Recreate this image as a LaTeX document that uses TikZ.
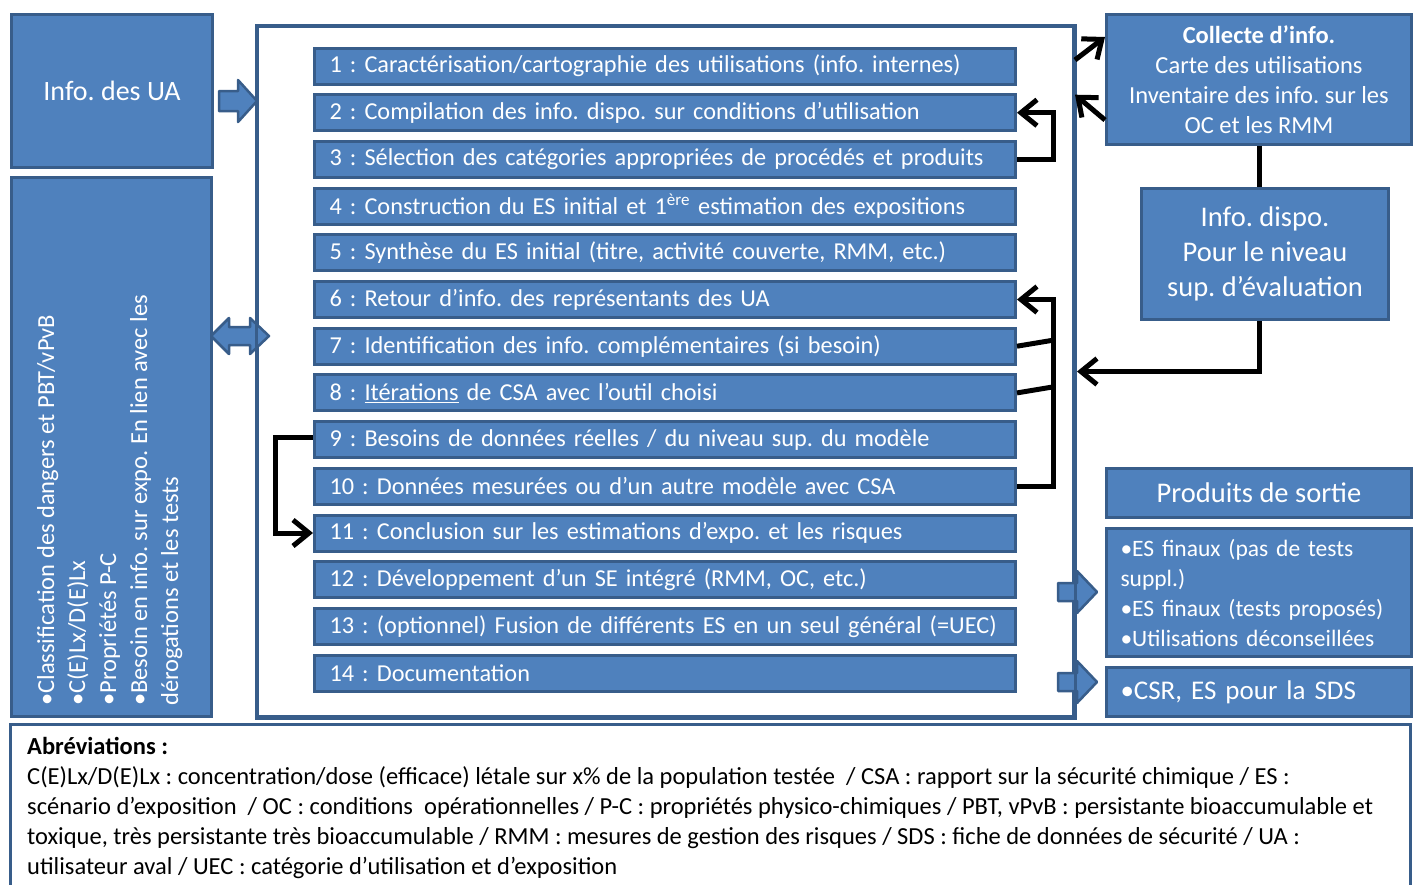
\documentclass[tikz,border=0pt]{standalone}
\usepackage{fontspec}
\setmainfont{Carlito}
\usetikzlibrary{arrows.meta}
\definecolor{boxblue}{HTML}{4F81BD}
\definecolor{boxline}{HTML}{385D8A}
\frenchspacing

\begin{document}
\begin{tikzpicture}[x=1pt, y=-1pt,
	bluebox/.style={draw=boxline, fill=boxblue, line width=3pt, text=white, inner sep=0pt, align=center, anchor=north west},
	stepbox/.style={bluebox, anchor=west, minimum height=36pt, text width=671pt, inner xsep=15pt, align=left, font=\fontsize{24.3}{28}\selectfont},
	flow/.style={line width=5pt, -{Straight Barb[length=16pt, width=26pt]}},
	link/.style={line width=5pt},
	blockarrow/.style={draw=boxline, fill=boxblue, line width=2.5pt, line join=round}]
	\useasboundingbox (0,0) rectangle (1415,884);
	\clip (0,0) rectangle (1415,884);
	\fill[white] (0,0) rectangle (1415,884);

	\node[bluebox, minimum width=201pt, minimum height=153pt, font=\fontsize{28}{32}\selectfont] (ua) at (10,13) {Info. des UA};
	\node[bluebox, minimum width=200pt, minimum height=539pt] (danger) at (10,176) {};
	\node[rotate=90, anchor=north west, text=white, inner sep=0pt, align=left, font=\fontsize{24.5}{31}\selectfont] (dangertxt) at (37,706)
		{•Classification des dangers et PBT/vPvB\\•C(E)Lx/D(E)Lx\\•Propriétés P-C\\•Besoin en info. sur expo. En lien avec les\\dérogations et les tests};

	\node[draw=boxline, fill=white, line width=3pt, anchor=north west, minimum width=816pt, minimum height=690pt] (main) at (256,25) {};

	\foreach \i/\t in {
		1/{1 : Caractérisation/cartographie des utilisations (info. internes)},
		2/{2 : Compilation des info. dispo.\ sur conditions d’utilisation},
		3/{3 : Sélection des catégories appropriées de procédés et produits},
		4/{4 : Construction du ES initial et 1\textsuperscript{ère} estimation des expositions},
		5/{5 : Synthèse du ES initial (titre, activité couverte, RMM, etc.)},
		6/{6 : Retour d’info. des représentants des UA},
		7/{7 : Identification des info. complémentaires (si besoin)},
		8/{8 : \underline{Itérations} de CSA avec l’outil choisi},
		9/{9 : Besoins de données réelles / du niveau sup.\ du modèle},
		10/{10 : Données mesurées ou d’un autre modèle avec CSA},
		11/{11 : Conclusion sur les estimations d’expo. et les risques},
		12/{12 : Développement d’un SE intégré (RMM, OC, etc.)},
		13/{13 : (optionnel) Fusion de différents ES en un seul général (=UEC)},
		14/{14 : Documentation}}
		\node[stepbox] (s\i) at (313,{66+(\i-1)*46.7}) {\t};

	\node[bluebox, minimum width=305pt, minimum height=130pt, font=\fontsize{24.5}{30}\selectfont] (collecte) at (1105,13)
		{\textbf{Collecte d’info.}\\Carte des utilisations\\Inventaire des info. sur les\\OC et les RMM};
	\node[bluebox, minimum width=247pt, minimum height=131pt, font=\fontsize{28.5}{35}\selectfont] (dispo) at (1140,187)
		{Info. dispo.\\Pour le niveau\\sup. d’évaluation};
	\node[bluebox, minimum width=305pt, minimum height=49pt, font=\fontsize{28.5}{32}\selectfont] (produits) at (1105,467) {Produits de sortie};
	\node[bluebox, minimum width=305pt, minimum height=128pt, text width=277pt, inner xsep=14pt, align=left, font=\fontsize{23.5}{30}\selectfont] (sortie) at (1105,527)
		{•ES finaux (pas de tests\\suppl.)\\•ES finaux (tests proposés)\\•Utilisations déconseillées};
	\node[bluebox, minimum width=305pt, minimum height=49pt, text width=277pt, inner xsep=14pt, align=left, font=\fontsize{27}{30}\selectfont] (csr) at (1105,666) {•CSR, ES pour la SDS};

	\draw[blockarrow] (219,91) -- (238,91) -- (238,80) -- (257,101) -- (238,122) -- (238,111) -- (219,111) -- cycle;
	\draw[blockarrow] (211,336) -- (229,318) -- (229,327) -- (250,327) -- (250,318) -- (269,336) -- (250,354) -- (250,345) -- (229,345) -- (229,354) -- cycle;
	\draw[blockarrow] (1058,583) -- (1077,583) -- (1077,571) -- (1097,592) -- (1077,613) -- (1077,601) -- (1058,601) -- cycle;
	\draw[blockarrow] (1058,673) -- (1077,673) -- (1077,661) -- (1097,682) -- (1077,703) -- (1077,691) -- (1058,691) -- cycle;
	\draw[boxline, line width=3pt] (main.north west) rectangle (main.south east);

	\draw[flow] (s3.east) -- ++(36,0) |- (s2.east);
	\draw[flow] (s10.east) -- ++(36,0) |- (s6.east);
	\draw[link] (s7.east) -- ++(36,-6);
	\draw[link] (s8.east) -- ++(36,-6);
	\draw[flow] ([yshift=2pt]s9.west) -- ++(-38,0) |- (s11.west);
	\draw[flow] ([yshift=6pt]main.east |- s1.east) -- ([yshift=-24pt]collecte.north west);
	\draw[flow] ([yshift=26pt]collecte.south west) -- ([yshift=18pt]main.east |- s2.east);
	\draw[link] (collecte.south) -- (collecte.south |- dispo.north);
	\draw[flow] (collecte.south |- dispo.south) |- ([xshift=2pt]main.east);

	\draw[boxline, line width=3pt] (10,724) rectangle (1410,900);
	\node[anchor=north west, inner sep=0pt, align=left, font=\fontsize{24.5}{30}\selectfont] (abrev) at (27,737)
		{\textbf{Abréviations :}\\
		C(E)Lx/D(E)Lx : concentration/dose (efficace) létale sur x\% de la population testée~ / CSA : rapport sur la sécurité chimique / ES :\\
		scénario d’exposition~ / OC : conditions~ opérationnelles / P-C : propriétés physico-chimiques / PBT, vPvB : persistante bioaccumulable et\\
		toxique, très persistante très bioaccumulable / RMM : mesures de gestion des risques / SDS : fiche de données de sécurité / UA :\\
		utilisateur aval / UEC : catégorie d’utilisation et d’exposition};
\end{tikzpicture}
\end{document}
